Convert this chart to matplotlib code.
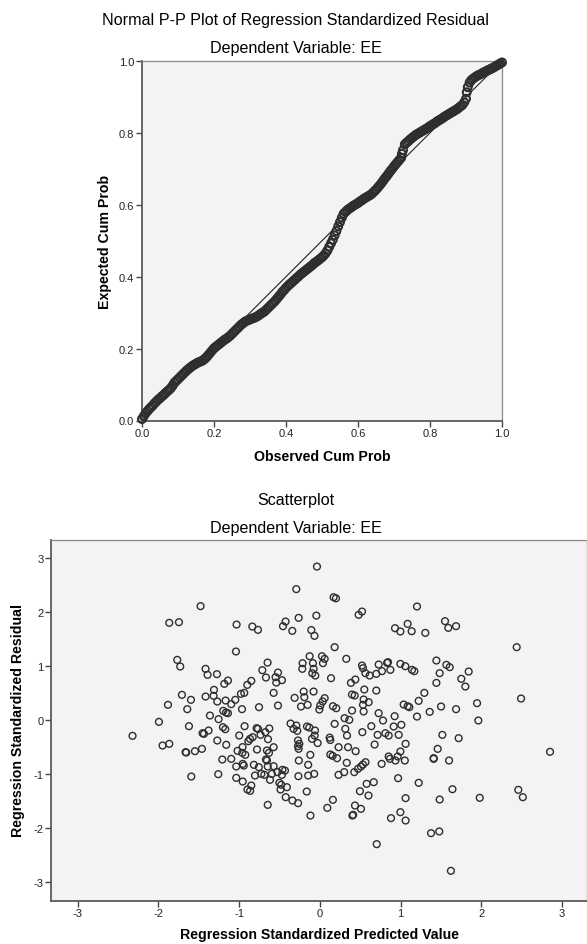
import matplotlib
matplotlib.use("Agg")
import matplotlib.pyplot as plt

plt.rcParams['font.family'] = ['Liberation Sans', 'DejaVu Sans']
plt.rcParams['axes.unicode_minus'] = False

# ---------------- data ----------------
pp_titles = ["Normal P-P Plot of Regression Standardized Residual", "Dependent Variable: EE"]
sc_titles = ["Scatterplot", "Dependent Variable: EE"]
pp_xlabel = "Observed Cum Prob"
pp_ylabel = "Expected Cum Prob"
sc_xlabel = "Regression Standardized Predicted Value"
sc_ylabel = "Regression Standardized Residual"
pp_ticks = [0.0, 0.2, 0.4, 0.6, 0.8, 1.0]
pp_ticklabels = ["0.0", "0.2", "0.4", "0.6", "0.8", "1.0"]
sc_ticks = [-3, -2, -1, 0, 1, 2, 3]
sc_ticklabels = ["-3", "-2", "-1", "0", "1", "2", "3"]

# P-P plot: observed vs expected cumulative probability
pp_observed = [
    0.000, 0.005, 0.010, 0.015, 0.020, 0.025, 0.030, 0.035, 0.040, 0.045,
    0.050, 0.055, 0.060, 0.065, 0.070, 0.075, 0.080, 0.085, 0.090, 0.095,
    0.100, 0.105, 0.110, 0.115, 0.120, 0.125, 0.130, 0.135, 0.140, 0.145,
    0.150, 0.155, 0.160, 0.165, 0.170, 0.175, 0.180, 0.185, 0.190, 0.195,
    0.200, 0.205, 0.210, 0.215, 0.220, 0.225, 0.230, 0.235, 0.240, 0.245,
    0.250, 0.255, 0.260, 0.265, 0.270, 0.275, 0.280, 0.285, 0.290, 0.295,
    0.300, 0.305, 0.310, 0.315, 0.320, 0.325, 0.330, 0.335, 0.340, 0.345,
    0.350, 0.355, 0.360, 0.365, 0.370, 0.375, 0.380, 0.385, 0.390, 0.395,
    0.400, 0.405, 0.410, 0.415, 0.420, 0.425, 0.430, 0.435, 0.440, 0.445,
    0.450, 0.455, 0.460, 0.465, 0.470, 0.475, 0.480, 0.485, 0.490, 0.495,
    0.500, 0.505, 0.510, 0.515, 0.520, 0.525, 0.530, 0.535, 0.540, 0.545,
    0.550, 0.555, 0.560, 0.565, 0.570, 0.575, 0.580, 0.585, 0.590, 0.595,
    0.600, 0.605, 0.610, 0.615, 0.620, 0.625, 0.630, 0.635, 0.640, 0.645,
    0.650, 0.655, 0.660, 0.665, 0.670, 0.675, 0.680, 0.685, 0.690, 0.695,
    0.700, 0.705, 0.710, 0.715, 0.720, 0.722, 0.725, 0.730, 0.735, 0.740,
    0.745, 0.750, 0.755, 0.760, 0.765, 0.770, 0.775, 0.780, 0.785, 0.790,
    0.795, 0.800, 0.805, 0.810, 0.815, 0.820, 0.825, 0.830, 0.835, 0.840,
    0.845, 0.850, 0.855, 0.860, 0.865, 0.870, 0.875, 0.880, 0.885, 0.890,
    0.895, 0.900, 0.902, 0.905, 0.910, 0.915, 0.920, 0.925, 0.930, 0.935,
    0.940, 0.945, 0.950, 0.955, 0.960, 0.965, 0.970, 0.975, 0.980, 0.985,
    0.990, 0.995, 1.000]
pp_expected = [
    0.004, 0.012, 0.020, 0.026, 0.032, 0.037, 0.042, 0.048, 0.053, 0.058,
    0.062, 0.067, 0.071, 0.076, 0.081, 0.085, 0.090, 0.097, 0.105, 0.110,
    0.115, 0.120, 0.125, 0.130, 0.135, 0.140, 0.144, 0.148, 0.152, 0.155,
    0.158, 0.161, 0.163, 0.165, 0.168, 0.172, 0.177, 0.183, 0.189, 0.195,
    0.201, 0.205, 0.209, 0.213, 0.217, 0.221, 0.225, 0.228, 0.232, 0.236,
    0.241, 0.246, 0.251, 0.256, 0.261, 0.266, 0.270, 0.274, 0.277, 0.279,
    0.281, 0.283, 0.285, 0.287, 0.290, 0.293, 0.297, 0.300, 0.303, 0.308,
    0.313, 0.318, 0.323, 0.328, 0.333, 0.339, 0.345, 0.351, 0.358, 0.363,
    0.369, 0.374, 0.379, 0.383, 0.388, 0.392, 0.397, 0.401, 0.406, 0.410,
    0.414, 0.418, 0.422, 0.426, 0.430, 0.434, 0.439, 0.442, 0.446, 0.450,
    0.454, 0.459, 0.465, 0.473, 0.483, 0.493, 0.503, 0.515, 0.527, 0.540,
    0.552, 0.564, 0.575, 0.580, 0.585, 0.589, 0.592, 0.596, 0.599, 0.602,
    0.605, 0.609, 0.612, 0.616, 0.619, 0.622, 0.625, 0.628, 0.632, 0.637,
    0.642, 0.648, 0.654, 0.660, 0.667, 0.674, 0.680, 0.687, 0.694, 0.700,
    0.707, 0.713, 0.719, 0.725, 0.731, 0.742, 0.752, 0.768, 0.773, 0.777,
    0.782, 0.786, 0.790, 0.794, 0.797, 0.800, 0.803, 0.806, 0.809, 0.812,
    0.815, 0.819, 0.822, 0.825, 0.828, 0.832, 0.835, 0.838, 0.841, 0.845,
    0.848, 0.851, 0.854, 0.857, 0.860, 0.863, 0.866, 0.870, 0.874, 0.878,
    0.885, 0.895, 0.913, 0.927, 0.940, 0.947, 0.951, 0.955, 0.958, 0.961,
    0.963, 0.966, 0.969, 0.971, 0.974, 0.976, 0.979, 0.981, 0.984, 0.987,
    0.990, 0.993, 0.996]

# Scatterplot: standardized predicted value (x) vs standardized residual (y)
sc_pred = [
    -1.477, -1.865, -1.745, -1.031, -0.836, -0.766, -0.456, -0.424, -0.341, -0.291, -0.262,
    -0.035, 0.171, 0.200, -0.043, 0.481, 0.523, 1.204, 0.932, 0.998, 1.088, 1.138, 1.307,
    1.551, 1.592, 1.688, -0.105, -0.066,
    -1.039, -1.766, -1.729, -0.647, -1.415, -1.390, -1.274, -0.712, -0.667, -0.518, -0.548,
    -0.469, -0.539, -1.138, -1.183, -0.849, -0.898, -0.572, -0.518, -0.312, -0.753, -0.936,
    -0.977, -1.047, -0.964, -1.097, -1.167, -1.311, -1.316, -1.270, -1.415, -1.708, -1.596,
    -1.881, -1.642, -1.361, -1.196, -1.162, -1.138, -1.254, -1.993, -2.320, -1.621, -1.948,
    -1.865, -1.663, -1.655, -1.547, -1.460, -1.452, -1.435, -1.378, -1.200, -1.171, -1.270,
    -1.159, -1.208, -1.097, -1.035, -0.998, -0.932, -1.019, -0.960, -0.923, -0.957, -0.886,
    -0.865, -0.832, -0.783, -0.766, -0.734, -0.642, -0.626, -0.675, -0.778, -0.655, -0.630,
    -0.572, -0.667, -0.655, -0.572, -0.362, -0.291, -0.325, -0.279, -0.270, -0.270,
    0.184, -0.126, 0.027, 0.060, -0.213, -0.217, -0.085, 0.039, -0.077, -0.093, -0.056,
    0.328, 0.523, 0.535, 0.564, 0.617, 0.700, 0.729, 0.770, 0.833, 0.845, 0.874, 0.998,
    1.059, 1.142, 1.171, 1.444, 1.568, 1.609, 1.485, 1.444, 1.753, 1.844, 1.803, 2.439,
    2.493, 0.139, 0.386, 0.440, -0.077, -0.200, -0.192, -0.233, -0.151, 0.060, 0.035,
    0.006, -0.006, 0.163, 0.204, 0.399, 0.432, 0.551, 0.543, 0.605, 0.535, 0.543, 0.700,
    0.399, 0.729, 0.783, 0.927, 1.039, 1.088, 1.109, 1.225, 1.295, 1.361, 1.204, 1.502,
    1.688, 1.948, 1.964, 0.307, 0.365, 0.184, 0.316, 0.337, 0.638, 0.527, 0.716, 0.812,
    0.853, 0.915, 1.010, 0.977, 1.063, 0.679, 1.518, 1.720, 1.460, 1.410, 2.852, -0.159,
    -0.130, -0.060, -0.064, -0.097, -0.027, 0.122, 0.130, -0.254, -0.262, 0.233, 0.350,
    0.444, -0.118, 0.130, 0.159, 0.213, 0.535, 0.853, 0.965, 0.998,
    -1.592, -1.258, -1.035, -0.955, -0.942, -0.955, -0.896, -0.863, -0.849, -0.803, -0.817,
    -0.756, -0.724, -0.687, -0.645, -0.617, -0.594, -0.645, -0.501, -0.478, -0.487, -0.408,
    -0.464, -0.432, -0.469, -0.524, -0.422, -0.339, -0.269, -0.265, -0.260, -0.162, -0.144,
    -0.144, -0.070, -0.116, 0.093, 0.162, 0.232, 0.302, 0.334, 0.427, 0.473, 0.510, 0.566,
    0.404, 0.413, 0.436, 0.510, 0.497, 0.603, 0.580, 0.668, 0.705, 0.766, 0.868, 0.937,
    1.053, 0.882, 0.998, 1.063, 0.970, 1.063, 1.225, 1.378, 1.480, 1.485, 1.411, 1.601,
    1.643, 1.624, 1.981, 2.459, 2.515]
sc_resid = [
    2.115, 1.806, 1.818, 1.774, 1.737, 1.676, 1.744, 1.830, 1.657, 2.430, 1.898,
    2.848, 2.280, 2.260, 1.940, 1.954, 2.015, 2.108, 1.707, 1.645, 1.787, 1.651, 1.620,
    1.837, 1.713, 1.744, 1.672, 1.565,
    1.275, 1.120, 0.997, 1.070, 0.954, 0.843, 0.855, 0.929, 0.793, 0.885, 0.800,
    0.744, 0.700, 0.737, 0.676, 0.731, 0.657, 0.509, 0.274, 0.417, 0.244, 0.509,
    0.491, 0.380, 0.207, 0.300, 0.367, 0.565, 0.454, 0.348, 0.441, 0.472, 0.380,
    0.287, 0.207, 0.089, 0.176, 0.145, 0.133, 0.022, -0.028, -0.287, -0.108, -0.466,
    -0.435, -0.589, -0.595, -0.571, -0.528, -0.238, -0.250, -0.188, -0.127, -0.164, -0.373,
    -0.453, -0.725, -0.713, -1.065, -0.281, -0.108, -0.565, -0.602, -0.639, -0.496, -0.386,
    -0.343, -0.312, -0.145, -0.157, -0.268, -0.349, -0.151, -0.219, -0.540, -0.558, -0.602,
    -0.497, -0.725, -0.744, -0.849, -0.059, -0.096, -0.157, -0.194, -0.478, -0.373,
    1.355, 1.188, 1.188, 1.139, 1.059, 0.954, 1.059, 1.059, 0.954, 0.873, 0.830,
    1.139, 1.015, 0.966, 0.874, 0.830, 0.861, 1.034, 0.911, 1.065, 1.077, 0.935, 1.046,
    1.003, 0.935, 0.911, 1.108, 1.028, 0.985, 0.874, 0.694, 0.769, 0.904, 0.626, 1.355,
    0.404, 0.781, 0.694, 0.756, 0.533, 0.533, 0.429, 0.256, 0.287, 0.411, 0.350,
    0.276, 0.200, 0.262, 0.225, 0.478, 0.460, 0.571, 0.386, 0.336, 0.287, 0.164, 0.552,
    0.182, 0.133, -0.003, 0.077, 0.293, 0.262, 0.244, 0.361, 0.509, 0.157, 0.070, 0.256,
    0.207, 0.318, -0.003, 0.040, 0.009, -0.065, -0.157, -0.281, -0.108, -0.219, -0.269, -0.238,
    -0.281, -0.114, -0.083, -0.269, -0.435, -0.448, -0.269, -0.330, -0.528, -0.700, -0.583, -0.114,
    -0.133, -0.188, -0.281, -0.343, -0.420, -0.320, -0.364, -0.435, -0.528, -0.497, -0.497,
    -0.571, -0.639, -0.633, -0.658, -0.701, -0.818, -0.669, -0.669, -0.577,
    -1.040, -0.997, -0.855, -0.806, -0.837, -1.133, -1.281, -1.306, -1.207, -1.022, -0.824,
    -0.867, -0.991, -1.009, -0.855, -1.102, -0.991, -1.565, -1.157, -1.194, -1.281, -1.238,
    -0.917, -0.930, -1.009, -0.959, -1.423, -1.485, -1.534, -1.034, -0.744, -1.318, -1.022,
    -0.824, -0.991, -1.763, -1.620, -1.472, -1.009, -0.959, -0.786, -0.959, -0.898, -0.855, -0.775,
    -1.763, -1.750, -1.577, -1.639, -1.312, -1.392, -1.176, -1.145, -2.293, -0.806, -0.713, -0.744,
    -0.744, -1.811, -1.701, -1.855, -1.071, -1.441, -1.157, -2.089, -2.058, -1.466, -0.713, -0.744,
    -1.275, -2.787, -1.435, -1.287, -1.423]

# ---------------- figure ----------------
W, H = 587, 945
fig = plt.figure(figsize=(W / 100, H / 100), dpi=100)
fig.patch.set_facecolor('white')
BG = '#F5F2F6'
EDGE = '#2e2e2e'


def px_axes(left, top, right, bottom):
    return fig.add_axes([left / W, 1 - bottom / H, (right - left) / W, (bottom - top) / H])


def style(ax):
    ax.set_facecolor(BG)
    for s in ['left', 'bottom']:
        ax.spines[s].set_color('#5a5a5a')
        ax.spines[s].set_linewidth(1.3)
    for s in ['top', 'right']:
        ax.spines[s].set_color('#8a8a8a')
        ax.spines[s].set_linewidth(0.9)
    ax.tick_params(direction='out', length=4, width=1.0, color='#444444',
                   labelsize=8, labelcolor='#222222', pad=1.5)


# ---- P-P plot ----
ax1 = px_axes(142, 62, 502, 421.5)
style(ax1)
ax1.plot([0, 1], [0, 1], color='#222222', lw=0.8, zorder=2)
ax1.scatter(pp_observed, pp_expected, s=32, facecolors='none', edgecolors=EDGE,
            linewidths=1.5, zorder=3, clip_on=False)
ax1.set_xlim(0, 1)
ax1.set_ylim(0, 1)
ax1.set_xticks(pp_ticks)
ax1.set_xticklabels(pp_ticklabels)
ax1.set_yticks(pp_ticks)
ax1.set_yticklabels(pp_ticklabels)

TS = 11.6
LS = 10.2
fig.text(296 / W, 1 - 21 / H, pp_titles[0], ha='center', va='center', fontsize=TS)
fig.text(296 / W, 1 - 49 / H, pp_titles[1], ha='center', va='center', fontsize=TS)
fig.text(322 / W, 1 - 457 / H, pp_xlabel, ha='center', va='center', fontsize=LS, fontweight='bold')
fig.text(105 / W, 1 - 242 / H, pp_ylabel, ha='center', va='center', fontsize=LS,
         fontweight='bold', rotation=90)

# ---- Scatterplot ----
ax2 = px_axes(51, 541, 587, 901.7)
style(ax2)
ax2.scatter(sc_pred, sc_resid, s=24, facecolors='none', edgecolors=EDGE,
            linewidths=1.0, zorder=3)
ax2.set_xlim(-3.33, 3.31)
ax2.set_ylim(-3.34, 3.34)
ax2.set_xticks(sc_ticks)
ax2.set_xticklabels(sc_ticklabels)
ax2.set_yticks(sc_ticks)
ax2.set_yticklabels(sc_ticklabels)

fig.text(296 / W, 1 - 501 / H, sc_titles[0], ha='center', va='center', fontsize=TS)
fig.text(296 / W, 1 - 529 / H, sc_titles[1], ha='center', va='center', fontsize=TS)
fig.text(320 / W, 1 - 935 / H, sc_xlabel, ha='center', va='center', fontsize=LS, fontweight='bold')
fig.text(18 / W, 1 - 721 / H, sc_ylabel, ha='center', va='center', fontsize=LS,
         fontweight='bold', rotation=90)

fig.savefig('out.png', dpi=100, facecolor='white')
